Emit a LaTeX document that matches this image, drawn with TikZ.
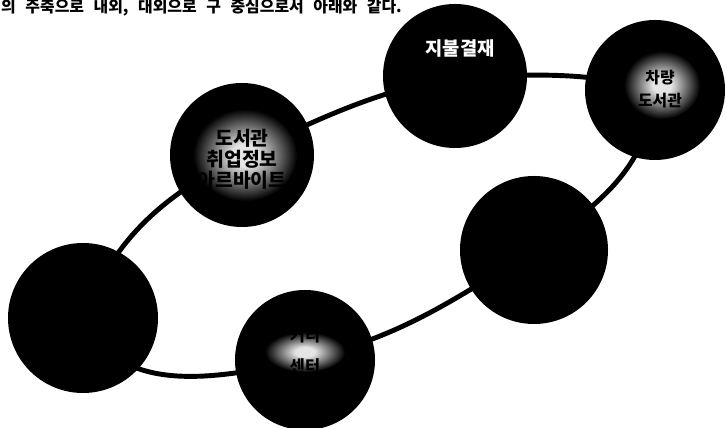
\documentclass[tikz,border=0pt]{standalone}
\usepackage{fontspec}
\newfontfamily\kr{Noto Sans CJK KR}
\colorlet{glowc}{white!90!black}
\pgfdeclareradialshading{glow}{\pgfpoint{0bp}{0bp}}{color(0bp)=(glowc); color(6bp)=(glowc); color(25bp)=(black); color(50bp)=(black)}
\tikzset{
	ring/.style={line width=4.2pt},
	ball/.style={circle,fill=black,inner sep=0pt},
	lbl/.style={align=center,text=black}
}
\begin{document}
\begin{tikzpicture}[x=0.03cm,y=0.03cm]
	\useasboundingbox (0,0) rectangle (726,428);
	\path
	(83,110) coordinate (L)
	(242,273) coordinate (T)
	(455,352) coordinate (P)
	(655,338) coordinate (C)
	(534,178) coordinate (M)
	(305,68) coordinate (K);
	% line of text on top
	\node[lbl,anchor=base west,inner xsep=0pt,font=\kr\bfseries\fontsize{13.6}{16}\selectfont] (cap) at (1,415)
	{의\hspace{0.6em}주축으로\hspace{0.6em}내외,\hspace{0.6em}대외으로\hspace{0.6em}구\hspace{0.6em}중심으로서\hspace{0.6em}아래와\hspace{0.6em}같다.};
	\draw[ring] (L) to[out=68,in=208] (T) to[out=25,in=192] (P) to[out=0,in=165] (C)
	to[out=265,in=35] (M) to[out=212,in=14] (K) to[out=192,in=-65] (L);
	\foreach \p/\d in {L/4.5,T/4.32,P/4.32,C/4.2,M/4.44,K/4.2}
	\node[ball,minimum size=\d cm] (\p b) at (\p) {};
	\shade[shading=glow] (245,273) ellipse (52 and 46);
	\shade[shading=glow] (662,343) ellipse (38 and 34);
	\shade[shading=glow] (305,76) ellipse (40 and 20);
	\node[lbl,font=\kr\bfseries\fontsize{16.5}{18}\selectfont] (Tt) at (242,269) {도서관\\취업정보\\아르바이트};
	\node[lbl,text=white,font=\kr\bfseries\fontsize{16}{18}\selectfont] (Pt) at (460,380) {지불결재};
	\node[lbl,font=\kr\bfseries\fontsize{13.5}{19.5}\selectfont] (Ct) at (660,339) {차량\\도서관};
	\node[lbl,font=\kr\bfseries\fontsize{14}{27}\selectfont] (Kt) at (305,77) {커리\\센터};
\end{tikzpicture}
\end{document}
